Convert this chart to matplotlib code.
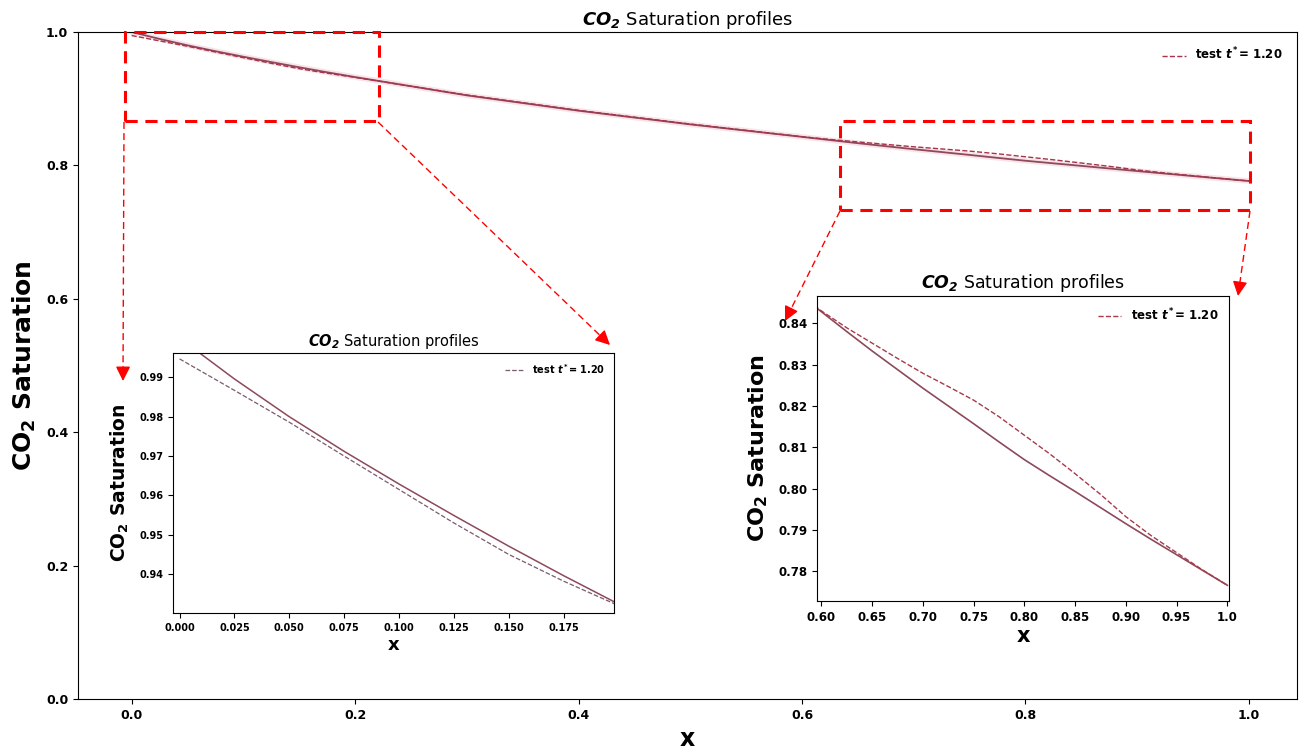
import numpy as np
import matplotlib
matplotlib.use("Agg")
from matplotlib import pyplot as plt
from matplotlib.patches import Rectangle

plt.rcParams['mathtext.fontset'] = 'dejavusans'
plt.rcParams['font.family'] = ['DejaVu Sans']

# values
x = [0.0, 0.025, 0.05, 0.075, 0.1, 0.125, 0.15, 0.175, 0.2, 0.3, 0.4, 0.5,
     0.6, 0.625, 0.65, 0.675, 0.7, 0.725, 0.75, 0.775, 0.8, 0.825, 0.85, 0.875,
     0.9, 0.925, 0.95, 0.975, 1.0]
sat_ref = [1.000, 0.9896, 0.9800, 0.9712, 0.9629, 0.9549, 0.9471, 0.9396, 0.9324,
           0.9050, 0.8820, 0.8615,
           0.8428, 0.8380, 0.8333, 0.8288, 0.8243, 0.8200, 0.8157, 0.8113, 0.8070,
           0.8031, 0.7993, 0.7954, 0.7915, 0.7877, 0.7840, 0.7803, 0.7766]
sat_test = [0.9947, 0.9867, 0.9786, 0.9700, 0.9615, 0.9530, 0.9450, 0.9382, 0.9320,
            0.9055, 0.8825, 0.8620,
            0.8430, 0.8389, 0.8352, 0.8315, 0.8279, 0.8247, 0.8214, 0.8174, 0.8129,
            0.8084, 0.8036, 0.7986, 0.7932, 0.7886, 0.7845, 0.7804, 0.7766]
test_label = r'test $\mathbfit{t^*}$= 1.20'
title = r'$\mathbfit{CO_2}$ Saturation profiles'
ylab = r'$\mathbf{CO_2}$ Saturation'

solid_c = '#8c4a5a'
W, H = 1316, 755


def fx(px):
    return px / W


def fy(py):
    return 1 - py / H


fig = plt.figure(figsize=(13.16, 7.55), dpi=100)
ax = fig.add_axes([fx(78), fy(699), fx(1297) - fx(78), fy(32) - fy(699)])
ax.plot(x, sat_ref, color='#f4c8d4', lw=4, alpha=0.5)
ax.plot(x, sat_ref, color=solid_c, lw=1.3)
ax.plot(x, sat_test, color='#a8324a', lw=1.0, ls='--', label=test_label)
ax.set_xlim(-0.048, 1.043)
ax.set_ylim(0, 1.0)
ax.set_xticks([0, 0.2, 0.4, 0.6, 0.8, 1.0])
ax.set_yticks([0, 0.2, 0.4, 0.6, 0.8, 1.0])
for t in ax.get_xticklabels() + ax.get_yticklabels():
    t.set_fontweight('bold')
    t.set_fontsize(9)
ax.set_title(title, fontsize=13, pad=5)
ax.set_xlabel('x', fontsize=17, fontweight='bold', labelpad=4)
ax.set_ylabel(ylab, fontsize=18, fontweight='bold', labelpad=6)
ax.legend(loc='upper right', framealpha=0.3, edgecolor='none',
          prop={'weight': 'bold', 'size': 8.5}, borderaxespad=0.8)

# zoom boxes
for (x0, y0, x1, y1) in [(-0.006, 0.8666, 0.221, 1.0), (0.634, 0.733, 1.001, 0.8666)]:
    ax.add_patch(Rectangle((x0, y0), x1 - x0, y1 - y0, fill=False, ec='red',
                           lw=2.2, ls=(0, (4, 2.5)), zorder=5, clip_on=False))

# inset 1
a1 = fig.add_axes([fx(173), fy(613), fx(614) - fx(173), fy(353) - fy(613)])
a1.plot(x, sat_ref, color=solid_c, lw=1.1)
a1.plot(x, sat_test, color='#7a5a6e', lw=0.9, ls='--', label=test_label)
a1.set_xlim(-0.003, 0.198)
a1.set_ylim(0.9301, 0.9962)
a1.set_xticks([0, 0.025, 0.05, 0.075, 0.1, 0.125, 0.15, 0.175])
a1.set_yticks([0.94, 0.95, 0.96, 0.97, 0.98, 0.99])
a1.set_xticklabels(['0.000', '0.025', '0.050', '0.075', '0.100', '0.125', '0.150', '0.175'])
for t in a1.get_xticklabels() + a1.get_yticklabels():
    t.set_fontweight('bold')
    t.set_fontsize(7)
a1.set_title(title, fontsize=10.5, pad=5)
a1.set_xlabel('x', fontsize=13, fontweight='bold', labelpad=2)
a1.set_ylabel(ylab, fontsize=13.5, fontweight='bold', labelpad=6)
a1.legend(loc='upper right', framealpha=0.3, edgecolor='none',
          prop={'weight': 'bold', 'size': 7})

# inset 2
a2 = fig.add_axes([fx(817), fy(601), fx(1229) - fx(817), fy(296) - fy(601)])
a2.plot(x, sat_ref, color=solid_c, lw=1.2)
a2.plot(x, sat_test, color='#a83a4a', lw=1.0, ls='--', label=test_label)
a2.set_xlim(0.5957, 1.0016)
a2.set_ylim(0.7728, 0.8466)
a2.set_xticks([0.6, 0.65, 0.7, 0.75, 0.8, 0.85, 0.9, 0.95, 1.0])
a2.set_xticklabels(['0.60', '0.65', '0.70', '0.75', '0.80', '0.85', '0.90', '0.95', '1.0'])
a2.set_yticks([0.78, 0.79, 0.80, 0.81, 0.82, 0.83, 0.84])
for t in a2.get_xticklabels() + a2.get_yticklabels():
    t.set_fontweight('bold')
    t.set_fontsize(8.5)
a2.set_title(title, fontsize=12.5, pad=6)
a2.set_xlabel('x', fontsize=15, fontweight='bold', labelpad=2)
a2.set_ylabel(ylab, fontsize=16, fontweight='bold', labelpad=6)
a2.legend(loc='upper right', framealpha=0.3, edgecolor='none',
          prop={'weight': 'bold', 'size': 8.5})

# arrows from the boxes to the insets (figure pixels)
arrows = [((124, 122), (123, 381)), ((378, 122), (610, 345)),
          ((840, 211), (785, 321)), ((1250, 211), (1238, 296))]
for (p0, p1) in arrows:
    v = np.array(p1, float) - np.array(p0, float)
    v = v / np.hypot(*v)
    back = np.array(p1, float) - v * 14
    fig.add_artist(plt.Line2D([fx(p0[0]), fx(back[0])], [fy(p0[1]), fy(back[1])],
                              color='red', lw=1.0, ls=(0, (5, 3))))
    ax.annotate('', xy=(fx(p1[0]), fy(p1[1])), xycoords='figure fraction',
                xytext=(fx(back[0]), fy(back[1])), textcoords='figure fraction',
                arrowprops=dict(arrowstyle='-|>', color='red', lw=1.0,
                                mutation_scale=22, shrinkA=0, shrinkB=0),
                annotation_clip=False)

fig.savefig('out.png', dpi=100)
